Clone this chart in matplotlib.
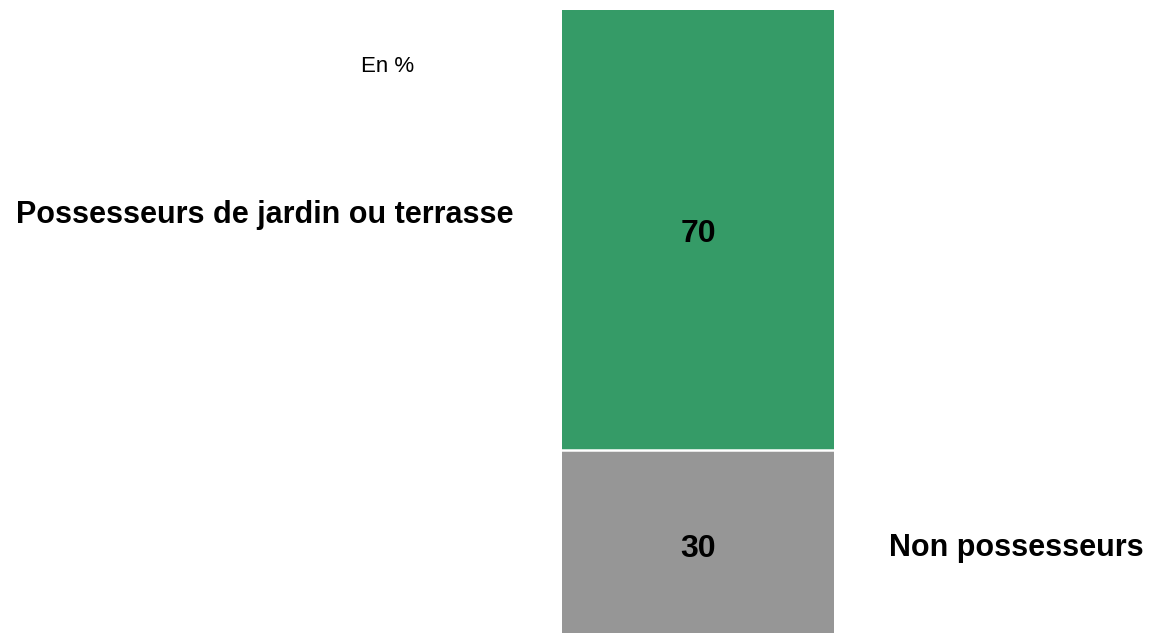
import matplotlib
matplotlib.use("Agg")
import matplotlib.pyplot as plt

# share of households, in %
segments = ["Non possesseurs", "Possesseurs de jardin ou terrasse"]
values = [30, 70]
colors = ["#969696", "#359b67"]

plt.rcParams["font.family"] = ["Liberation Sans", "DejaVu Sans"]

fig = plt.figure(figsize=(11.6, 6.33), dpi=100)
ax = fig.add_axes([562 / 1160, -6 / 633, 272 / 1160, 629 / 633])

bottom = 0
for name, value, color in zip(segments, values, colors):
    ax.bar(0, value, width=1, bottom=bottom, color=color, linewidth=0)
    # number in the middle of the segment
    ax.text(0, bottom + value / 2 - 1.9, str(value), ha="center",
            va="baseline", fontsize=23, fontweight="bold")
    bottom += value

# white gap between the two segments
ax.axhline(values[0], color="white", linewidth=1.8)

ax.set_xlim(-0.5, 0.5)
ax.set_ylim(0, 100)
ax.axis("off")

# category labels beside the bar
ax.text(-0.68, 66.2, segments[1], ha="right", va="baseline",
        fontsize=22, fontweight="bold", clip_on=False)
ax.text(0.702, 13.2, segments[0], ha="left", va="baseline",
        fontsize=22, fontweight="bold", clip_on=False)
ax.text(-1.14, 90.2, "En %", ha="center", va="baseline",
        fontsize=16, clip_on=False)

fig.savefig("out.png", dpi=100)
